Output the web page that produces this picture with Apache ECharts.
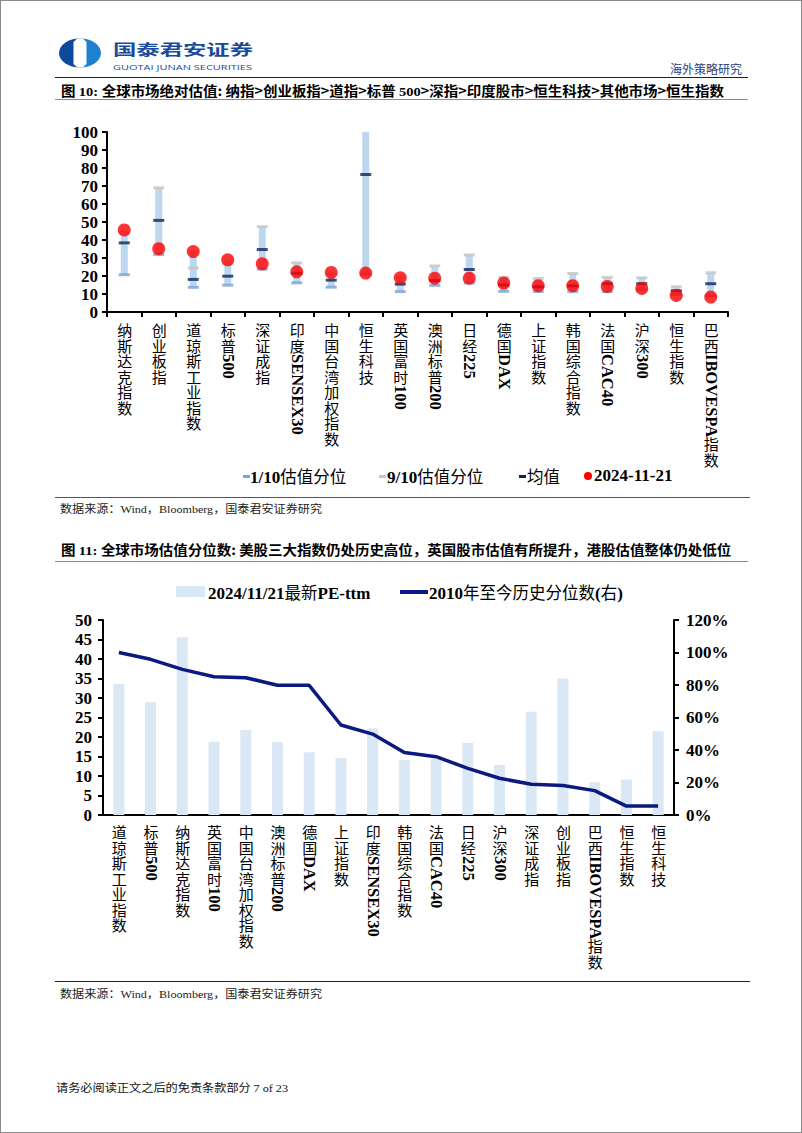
<!DOCTYPE html>
<html><head><meta charset="utf-8">
<script src="https://cdn.jsdelivr.net/npm/echarts@6/dist/echarts.min.js"></script>
<style>
html,body{margin:0;padding:0;background:#fff;}
#page{position:relative;width:802px;height:1133px;overflow:hidden;background:#fff;}
#chart{position:absolute;left:0;top:0;width:802px;height:1133px;}
.t{position:absolute;white-space:nowrap;font-family:"Liberation Serif","Noto Sans CJK SC",serif;color:#000;}
.cjk{font-family:"Noto Sans CJK SC",sans-serif;font-weight:normal;}
.lat{font-family:"Liberation Serif",serif;font-weight:bold;}
.hl{position:absolute;height:0;}
.vlab{position:absolute;writing-mode:vertical-rl;text-orientation:mixed;font-family:"Noto Sans CJK SC",sans-serif;font-size:15px;line-height:18px;letter-spacing:0.5px;color:#000;transform:translateX(-50%);white-space:nowrap;}
.vlab b{font-family:"Liberation Serif",serif;font-weight:bold;font-size:16.5px;letter-spacing:0;}
.mk{position:absolute;}
#frame{position:absolute;left:0;top:0;width:802px;height:1133px;box-sizing:border-box;border:1px solid #8a8a8a;pointer-events:none;}
</style></head>
<body>
<div id="page">
<div id="chart"></div>
</div>
<script>
// ---------- Figure 10 data ----------
const cats1 = ['纳斯达克指数','创业板指','道琼斯工业指数','标普500','深证成指','印度SENSEX30','中国台湾加权指数','恒生科技','英国富时100','澳洲标普200','日经225','德国DAX','上证指数','韩国综合指数','法国CAC40','沪深300','恒生指数','巴西IBOVESPA指数'];
const p10  = [20.7, 31.9, 13.7, 14.9, 23.8, 16.2, 13.8, 21.0, 11.3, 14.8, 16.1, 11.5, 11.4, 11.3, 11.4, 12.3, 9.6, 9.0];
const p90  = [44.0, 69.0, 24.4, 26.8, 47.4, 27.3, 21.0, 102, 19.5, 25.6, 31.7, 19.2, 18.6, 21.4, 19.2, 19.0, 14.0, 21.8];
const avg  = [38.4, 50.9, 18.1, 19.9, 34.7, 21.5, 17.7, 76.4, 15.5, 17.5, 23.6, 15.0, 14.0, 14.5, 15.7, 15.7, 11.8, 15.7];
const cur  = [45.6, 35.2, 33.6, 29.0, 26.8, 22.3, 22.0, 21.6, 19.0, 18.8, 18.8, 16.1, 14.6, 14.6, 14.2, 13.1, 9.2, 8.3];
const yTicks1 = [0, 100, 10];
// ---------- Figure 11 data ----------
const cats2 = ['道琼斯工业指数','标普500','纳斯达克指数','英国富时100','中国台湾加权指数','澳洲标普200','德国DAX','上证指数','印度SENSEX30','韩国综合指数','法国CAC40','日经225','沪深300','深证成指','创业板指','巴西IBOVESPA指数','恒生指数','恒生科技'];
const pe   = [33.6, 28.9, 45.6, 18.8, 21.8, 18.7, 16.1, 14.6, 22.2, 14.1, 14.4, 18.5, 12.8, 26.5, 35.0, 8.4, 9.1, 21.5];
const pct  = [100.0, 95.8, 89.6, 85.1, 84.5, 79.8, 79.8, 55.4, 49.8, 38.4, 35.9, 28.7, 22.6, 18.9, 18.1, 15.0, 5.5, 5.5];
const yTicksL = [0, 50, 5];
const yTicksR = [0, 120, 20];

const page = document.getElementById('page');

// high-low band spans all four series per category
const hlLow = cats1.map((_, i) => Math.min(p10[i], p90[i], avg[i], cur[i]));
const hlRange = cats1.map((_, i) => Math.max(p10[i], p90[i], avg[i], cur[i]) - hlLow[i]);

const axisFont = {fontFamily:'Liberation Serif', fontWeight:'bold', fontSize:17, color:'#000'};
const blackLine = {color:'#000', width:2};

const chart = echarts.init(document.getElementById('chart'), null, {renderer:'svg'});
chart.setOption({
  animation:false,
  grid:[
    {left:107, top:132, width:621, height:180},
    {left:103, top:620, width:571, height:195}
  ],
  xAxis:[
    {type:'category', gridIndex:0, data:cats1, axisLine:{lineStyle:blackLine},
     axisTick:{show:true, interval:0, length:5, lineStyle:blackLine}, axisLabel:{show:false}},
    {type:'category', gridIndex:1, data:cats2, axisLine:{lineStyle:blackLine},
     axisTick:{show:false}, axisLabel:{show:false}}
  ],
  yAxis:[
    {type:'value', gridIndex:0, min:yTicks1[0], max:yTicks1[1], interval:yTicks1[2],
     axisLine:{show:true, lineStyle:blackLine}, axisTick:{show:true, length:5, lineStyle:blackLine},
     splitLine:{show:false}, axisLabel:Object.assign({margin:9}, axisFont)},
    {type:'value', gridIndex:1, min:yTicksL[0], max:yTicksL[1], interval:yTicksL[2],
     axisLine:{show:true, lineStyle:blackLine}, axisTick:{show:true, length:5, lineStyle:blackLine},
     splitLine:{show:false}, axisLabel:Object.assign({margin:11}, axisFont)},
    {type:'value', gridIndex:1, position:'right', min:yTicksR[0], max:yTicksR[1], interval:yTicksR[2],
     axisLine:{show:true, lineStyle:blackLine}, axisTick:{show:true, length:5, lineStyle:blackLine},
     splitLine:{show:false}, axisLabel:Object.assign({margin:12, formatter:'{value}%'}, axisFont)}
  ],
  series:[
    {type:'bar', name:'base', xAxisIndex:0, yAxisIndex:0, stack:'hl', data:hlLow, barWidth:7,
     itemStyle:{color:'rgba(0,0,0,0)'}, silent:true, z:1},
    {type:'bar', name:'range', xAxisIndex:0, yAxisIndex:0, stack:'hl', data:hlRange, barWidth:7,
     itemStyle:{color:'#bdd7ee'}, silent:true, z:1},
    {type:'scatter', name:'1/10估值分位', xAxisIndex:0, yAxisIndex:0, data:p10, symbol:'rect', symbolSize:[11,3],
     itemStyle:{color:'#7aa3d2'}, z:3},
    {type:'scatter', name:'9/10估值分位', xAxisIndex:0, yAxisIndex:0, data:p90, symbol:'rect', symbolSize:[11,3],
     itemStyle:{color:'#c4c4c4'}, z:3},
    {type:'scatter', name:'均值', xAxisIndex:0, yAxisIndex:0, data:avg, symbol:'rect', symbolSize:[11,3],
     itemStyle:{color:'#0b2659'}, z:4},
    {type:'scatter', name:'2024-11-21', xAxisIndex:0, yAxisIndex:0, data:cur, symbol:'circle', symbolSize:13,
     itemStyle:{color:'#ff0000'}, z:5},
    {type:'bar', name:'2024/11/21最新PE-ttm', xAxisIndex:1, yAxisIndex:1, data:pe, barWidth:11,
     itemStyle:{color:'#dae8f6'}, z:1},
    {type:'line', name:'2010年至今历史分位数(右)', xAxisIndex:1, yAxisIndex:2, data:pct, symbol:'none',
     lineStyle:{color:'#0b1a80', width:3.5}, itemStyle:{color:'#0b1a80'}, z:3}
  ]
});

// ---------- helpers ----------
function mixHTML(s, cjkSize, latSize){
  return s.replace(/([^A-Za-z0-9\-\/\.\(\)%: ]+)|([A-Za-z0-9\-\/\.\(\)%: ]+)/g, (m, c, l) =>
    c ? `<span class="cjk" style="font-size:${cjkSize}px">${c}</span>`
      : `<span class="lat" style="font-size:${latSize}px">${l}</span>`);
}
function text(html, left, cy, opts){
  opts = opts || {};
  const d = document.createElement('div');
  d.className = 't';
  const lh = opts.lh || 20;
  d.style.left = left + 'px';
  d.style.top = (cy - lh/2) + 'px';
  d.style.lineHeight = lh + 'px';
  d.style.height = lh + 'px';
  if (opts.size) d.style.fontSize = opts.size + 'px';
  if (opts.weight) d.style.fontWeight = opts.weight;
  if (opts.color) d.style.color = opts.color;
  if (opts.family) d.style.fontFamily = opts.family;
  if (opts.ls) d.style.letterSpacing = opts.ls;
  d.innerHTML = html;
  page.appendChild(d);
  return d;
}
function hline(x1, x2, y, color, w){
  const d = document.createElement('div');
  d.className = 'hl';
  d.style.left = x1 + 'px'; d.style.width = (x2 - x1) + 'px';
  d.style.top = y + 'px'; d.style.borderTop = (w||1) + 'px solid ' + color;
  page.appendChild(d);
}
function box(x, y, w, h, color, radius){
  const d = document.createElement('div');
  d.className = 'mk';
  d.style.left = x + 'px'; d.style.top = y + 'px';
  d.style.width = w + 'px'; d.style.height = h + 'px';
  d.style.background = color;
  if (radius) d.style.borderRadius = radius;
  page.appendChild(d);
}
const fits = [];
function fitW(el, w){ fits.push([el, w]); }
function applyFits(){
  fits.forEach(([el, w]) => {
    el.style.transform = 'none';
    const nat = el.getBoundingClientRect().width;
    if (nat > 0){ el.style.transformOrigin = '0 50%'; el.style.transform = `scaleX(${w/nat})`; }
  });
}

// ---------- header ----------
const logo = document.createElement('div');
logo.style.position = 'absolute'; logo.style.left = '56px'; logo.style.top = '37px';
logo.innerHTML = `<svg width="48" height="32" viewBox="0 0 48 32">
 <defs><clipPath id="lc"><ellipse cx="24" cy="16" rx="21" ry="14.5"/></clipPath></defs>
 <g clip-path="url(#lc)">
  <rect x="0" y="0" width="24" height="32" fill="#0b4a9c"/>
  <rect x="24" y="0" width="24" height="32" fill="#1f7fd0"/>
  <polygon points="24,-1 30.5,5 30.5,27 24,33 17.5,27 17.5,5" fill="#fff"/>
 </g></svg>`;
page.appendChild(logo);

fitW(text('国泰君安证券', 113, 48.5, {size:14.5, weight:'bold', color:'#1a4b9b', family:'"Noto Sans CJK SC",sans-serif', lh:15}), 140);
fitW(text('GUOTAI JUNAN SECURITIES', 113, 66.5, {size:8, color:'#1a4b9b', family:'"Open Sans",sans-serif', lh:8}), 139);
fitW(text('海外策略研究', 670, 68.5, {size:12, color:'#1f3f80', family:'"Noto Sans CJK SC",sans-serif', lh:14}), 72);
hline(55, 748, 77, '#222', 1.5);

// ---------- figure 10 ----------
const t1 = text('<span class="cjk" style="font-weight:bold">图 </span><span class="lat">10: </span><span class="cjk" style="font-weight:bold">全球市场绝对估值: 纳指&gt;创业板指&gt;道指&gt;标普 </span><span class="lat">500</span><span class="cjk" style="font-weight:bold">&gt;深指&gt;印度股市&gt;恒生科技&gt;其他市场&gt;恒生指数</span>', 61, 90, {size:13.5, lh:18});
t1.querySelectorAll('span').forEach(s => s.style.fontSize = '13.5px');
fitW(t1, 663);
hline(55, 748, 99, '#8a8a8a', 1);

// legend 1
box(243, 474.5, 7, 3, '#7aa3d2');
text(mixHTML('1/10估值分位', 16.5, 17), 250, 476, {lh:20});
box(379, 474.5, 7, 3, '#c4c4c4');
text(mixHTML('9/10估值分位', 16.5, 17), 387, 476, {lh:20});
box(519, 474.5, 7, 3, '#0b2659');
text(mixHTML('均值', 16.5, 17), 527, 476, {lh:20});
box(584, 472, 8, 8, '#ff0000', '50%');
text(mixHTML('2024-11-21', 16.5, 17), 594, 476, {lh:20});

hline(55, 750, 497, '#555', 1);
const src1 = text('<span class="cjk">数据来源：</span>Wind<span class="cjk">，</span>Bloomberg<span class="cjk">，国泰君安证券研究</span>', 60, 508, {size:11, color:'#222', lh:14});
fitW(src1, 262);

// ---------- figure 11 ----------
const t2 = text('<span class="cjk" style="font-weight:bold">图 </span><span class="lat">11: </span><span class="cjk" style="font-weight:bold">全球市场估值分位数: 美股三大指数仍处历史高位，英国股市估值有所提升，港股估值整体仍处低位</span>', 61, 549, {size:13.5, lh:18});
t2.querySelectorAll('span').forEach(s => s.style.fontSize = '13.5px');
hline(55, 748, 561, '#8a8a8a', 1);

// legend 2
box(176, 586, 29, 11, '#dae8f6');
text(mixHTML('2024/11/21最新PE-ttm', 16.5, 17), 208, 592, {lh:20});
box(400, 590, 28, 4, '#0b1a80');
text(mixHTML('2010年至今历史分位数(右)', 16.5, 17), 429, 592, {lh:20});

hline(55, 750, 981, '#222', 1);
const src2 = text('<span class="cjk">数据来源：</span>Wind<span class="cjk">，</span>Bloomberg<span class="cjk">，国泰君安证券研究</span>', 60, 993, {size:11, color:'#222', lh:14});
fitW(src2, 262);

// footer
const foot = text('<span class="cjk">请务必阅读正文之后的免责条款部分 </span>7 of 23', 56, 1087, {size:11, color:'#111', lh:14});
fitW(foot, 232);

// ---------- vertical category labels ----------
function vlabels(cats, axisIdx, top){
  cats.forEach(c => {
    const x = chart.convertToPixel({xAxisIndex:axisIdx}, c);
    const d = document.createElement('div');
    d.className = 'vlab';
    d.style.left = x + 'px';
    d.style.top = top + 'px';
    d.innerHTML = c.replace(/([A-Za-z0-9]+)/g, '<b>$1</b>');
    page.appendChild(d);
  });
}
vlabels(cats1, 0, 323);
vlabels(cats2, 1, 825);

const fr = document.createElement('div'); fr.id = 'frame'; page.appendChild(fr);

function layoutAll(){
  applyFits();
  const m = /scaleX\(([\d.]+)\)/.exec(t1.style.transform);
  if (m){ t2.style.transformOrigin = '0 50%'; t2.style.transform = `scaleX(${m[1]})`; }
}
layoutAll();
if (document.fonts && document.fonts.ready) document.fonts.ready.then(layoutAll);
</script>
</body></html>
